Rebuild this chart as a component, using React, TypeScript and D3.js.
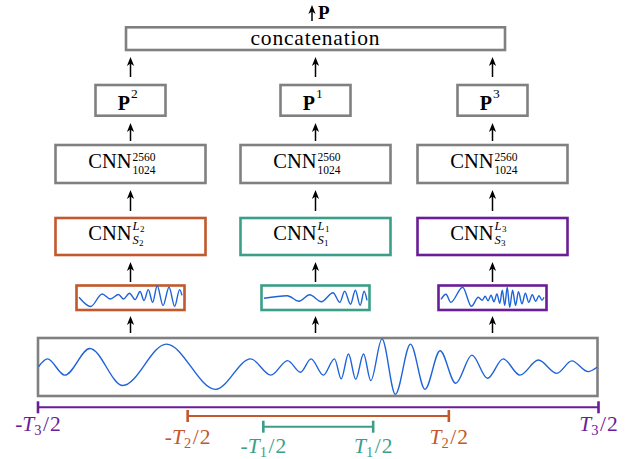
import React from 'react';
import * as d3 from 'd3';

// window lengths (relative to T3) and branch data, left to right on the page
const branches = ['2', '1', '3'];
const branchColors = ['#c2582c', '#3b9e88', '#6a1d97'];
const windowLengths = [0.466, 0.196, 1.0]; // T2, T1, T3

// full input signal, t in [0,100] across the box, amplitude in [-1,1]
const bigSignal: [number, number][] = [
  [0, 0.01], [1.6, 0.28], [4.7, -0.28], [9.2, 0.64], [15.1, -0.64], [22.9, 0.79],
  [31.7, -0.77], [38.0, 0.28], [41.6, -0.28], [44.6, 0.22], [46.9, -0.18], [48.8, 0.28],
  [51.0, -0.28], [53.0, 0.28], [54.2, -0.41], [55.5, 0.45], [56.8, -0.42], [58.2, 0.45],
  [59.5, -0.47], [61.5, 0.97], [63.9, -0.94], [66.6, 0.79], [69.2, -0.77], [71.9, 0.56],
  [74.7, -0.56], [77.6, 0.41], [80.4, -0.39], [83.2, 0.28], [86.2, -0.28], [89.5, 0.24],
  [92.8, -0.22], [95.5, 0.21], [98.4, -0.16], [100, -0.01],
];

// windowed / resampled signals fed to each branch
const signal2: [number, number][] = [
  [0, 0.04], [11.3, -0.73], [22.5, 0.32], [30.4, -0.1], [38.4, 0.27], [43.2, -0.1],
  [49, 0.38], [54.5, -0.15], [59.3, 0.52], [63.1, -0.23], [67.3, 0.68], [71.5, -0.38],
  [75.9, 1.0], [81.6, -0.65], [87.4, 0.88], [92.9, -0.71], [97.7, 0.68], [100, 0.2],
];
const signal1: [number, number][] = [
  [0, -0.04], [22.6, 0.17], [34, -0.29], [44.3, 0.25], [55.7, -0.33], [67, 0.42],
  [73.6, -0.38], [78.3, 0.54], [84, -0.54], [88.7, 0.63], [93.4, -0.63], [97.2, 0.54],
  [100, -0.21],
];
const signal3: [number, number][] = [
  [0, -0.13], [4.8, 0.29], [9.5, -0.38], [21, 0.88], [29.5, -0.71], [36.2, 0.04],
  [40, -0.21], [42.9, 0.13], [45.7, -0.25], [48.6, 0.21], [51.4, -0.33], [54.3, 0.33],
  [57.1, -0.46], [59.5, 0.63], [61.9, -0.63], [64.3, 0.88], [66.7, -0.79], [69.5, 0.63],
  [72.4, -0.63], [75.2, 0.5], [78.6, -0.5], [81.9, 0.38], [85.2, -0.38], [88.6, 0.25],
  [91.9, -0.29], [95.2, 0.17], [98.1, -0.21], [100, 0.04],
];
const branchSignals = [signal2, signal1, signal3];

const W = 643;
const H = 459;
const GRAY = '#808080';
const BLUE = '#1f63d8';
const FONT = "'Liberation Serif', 'DejaVu Serif', serif";

const colX = [130.5, 315.5, 492.5];

const Arrow = ({ x, y0, y1 }: { x: number; y0: number; y1: number }) => (
  // y0 = tip (top), y1 = tail (bottom)
  <g>
    <line x1={x} x2={x} y1={y1} y2={y0 + 5} stroke="#000" strokeWidth={1.5} />
    <path d={`M${x},${y0} L${x + 3.6},${y0 + 9} L${x},${y0 + 6.5} L${x - 3.6},${y0 + 9} Z`} fill="#000" />
  </g>
);

const Box = ({ x0, x1, y0, y1, color = GRAY }: { x0: number; x1: number; y0: number; y1: number; color?: string }) => (
  <rect x={x0} y={y0} width={x1 - x0} height={y1 - y0} fill="#fff" stroke={color} strokeWidth={2.6} />
);

export default function App() {
  const tScale = d3.scaleLinear().domain([-0.5, 0.5]).range([38, 598.5]);

  const bigX = d3.scaleLinear().domain([0, 100]).range([38.5, 597]);
  const bigY = d3.scaleLinear().domain([-1, 1]).range([396, 338]);
  const bigLine = d3.line<[number, number]>()
    .x(d => bigX(d[0]))
    .y(d => bigY(d[1]))
    .curve(d3.curveMonotoneX);

  const smallW = 108;
  const smallY0 = 285.5;
  const smallY1 = 310;
  const smallY = d3.scaleLinear().domain([-1, 1]).range([297.8 + 12, 297.8 - 12]);

  // window bars below the input: order T3 (outer), T2, T1
  const windowRows = [
    { idx: 2, y: 407.3, labelY: 430.5 },
    { idx: 0, y: 416, labelY: 443.5 },
    { idx: 1, y: 426.7, labelY: 453 },
  ];

  return (
    <svg width={W} height={H} style={{ position: 'absolute', left: 0, top: 0, background: '#fff', fontFamily: FONT }}>
      {/* output */}
      <Arrow x={312} y0={5} y1={21} />
      <text x={318} y={18.5} fontSize={19} fontWeight="bold">P</text>

      {/* concatenation */}
      <Box x0={126} x1={505} y0={27.3} y1={50} />
      <text x={315} y={45} fontSize={21.5} textAnchor="middle" textLength={129}>concatenation</text>

      {branches.map((b, i) => {
        const c = colX[i];
        const color = branchColors[i];
        const sx = d3.scaleLinear().domain([0, 100]).range([c - smallW / 2 + 2.5, c + smallW / 2 - 2.5]);
        const smallLine = d3.line<[number, number]>()
          .x(d => sx(d[0]))
          .y(d => smallY(d[1]))
          .curve(d3.curveMonotoneX);
        return (
          <g key={b}>
            <Arrow x={c} y0={57} y1={77} />
            <Box x0={c - 35} x1={c + 35} y0={85} y1={115.7} />
            <text x={c - 0.5} y={110} fontSize={20} fontWeight="bold" textAnchor="end">P</text>
            <text x={c + 0.5} y={98} fontSize={13.5}>{b}</text>

            <Arrow x={c} y0={123} y1={141} />
            <Box x0={c - 75} x1={c + 75} y0={145} y1={183} />
            <text x={c + 1} y={167.5} fontSize={20.5} textAnchor="end">CNN</text>
            <text x={c + 2} y={160.8} fontSize={11.5}>2560</text>
            <text x={c + 2} y={173.6} fontSize={11.5}>1024</text>

            <Arrow x={c} y0={190} y1={211} />
            <Box x0={c - 75} x1={c + 75} y0={218} y1={255} color={color} />
            <text x={c + 1} y={240} fontSize={20.5} textAnchor="end">CNN</text>
            <text x={c + 2} y={229.5} fontSize={12.5} fontStyle="italic">L
              <tspan fontSize={9} fontStyle="normal" dy={2} dx={0.5}>{b}</tspan>
            </text>
            <text x={c + 2} y={244} fontSize={12.5} fontStyle="italic">S
              <tspan fontSize={9} fontStyle="normal" dy={1.5} dx={0.3}>{b}</tspan>
            </text>

            <Arrow x={c} y0={262} y1={282} />
            <Box x0={c - smallW / 2} x1={c + smallW / 2} y0={smallY0} y1={smallY1} color={color} />
            <path d={smallLine(branchSignals[i]) ?? ''} fill="none" stroke={BLUE} strokeWidth={1.4} />

            <Arrow x={c} y0={316} y1={333} />
          </g>
        );
      })}

      {/* input signal */}
      <Box x0={38} x1={597.5} y0={338} y1={396} />
      <path d={bigLine(bigSignal) ?? ''} fill="none" stroke={BLUE} strokeWidth={1.4} />

      {/* windows */}
      {windowRows.map(r => {
        const color = branchColors[r.idx];
        const half = windowLengths[r.idx] / 2;
        const xl = tScale(-half);
        const xr = tScale(half);
        const sub = branches[r.idx];
        return (
          <g key={sub}>
            <line x1={xl} x2={xr} y1={r.y} y2={r.y} stroke={color} strokeWidth={2} />
            <line x1={xl} x2={xl} y1={r.y - 6} y2={r.y + 6} stroke={color} strokeWidth={2.6} />
            <line x1={xr} x2={xr} y1={r.y - 6} y2={r.y + 6} stroke={color} strokeWidth={2.6} />
            <text x={xl} y={r.labelY} fontSize={21.5} fill={color} textAnchor="middle">
              -<tspan fontStyle="italic">T</tspan>
              <tspan fontSize={14.5} dy={4}>{sub}</tspan>
              <tspan dy={-4} dx={1.5}>/</tspan>
              <tspan dx={1}>2</tspan>
            </text>
            <text x={xr} y={r.labelY} fontSize={21.5} fill={color} textAnchor="middle">
              <tspan fontStyle="italic">T</tspan>
              <tspan fontSize={14.5} dy={4}>{sub}</tspan>
              <tspan dy={-4} dx={1.5}>/</tspan>
              <tspan dx={1}>2</tspan>
            </text>
          </g>
        );
      })}
    </svg>
  );
}
